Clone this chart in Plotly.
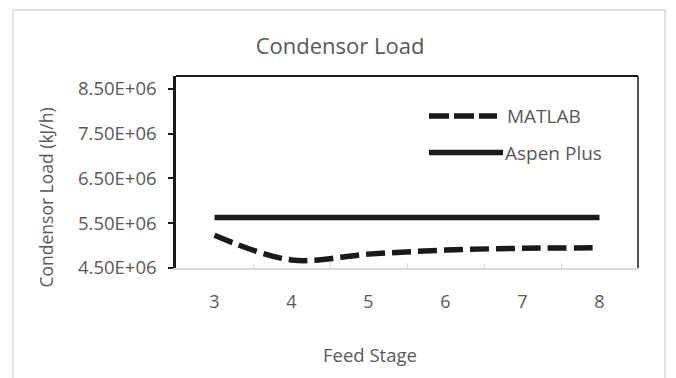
import plotly.graph_objects as go

# ---- data ----
feed_stage = ["3", "4", "5", "6", "7", "8"]
matlab_load = [5.23e6, 4.68e6, 4.81e6, 4.90e6, 4.94e6, 4.95e6]
aspen_load = [5.63e6, 5.63e6, 5.63e6, 5.63e6, 5.63e6, 5.63e6]
y_tick_vals = [4.5e6, 5.5e6, 6.5e6, 7.5e6, 8.5e6]
y_tick_text = ["4.50E+06", "5.50E+06", "6.50E+06", "7.50E+06", "8.50E+06"]

FONT = "Open Sans"
GREY = "#595959"
DARK = "#1a1a1a"

fig = go.Figure()
fig.add_trace(go.Scatter(x=feed_stage, y=matlab_load, mode="lines", name="MATLAB",
                         line=dict(color=DARK, width=5.5, dash="19px,7px", shape="spline", smoothing=1.0),
                         showlegend=False))
fig.add_trace(go.Scatter(x=feed_stage, y=aspen_load, mode="lines", name="Aspen Plus",
                         line=dict(color=DARK, width=5.5), showlegend=False))

W, H = 676, 378
L, R, T, B = 176, 38, 76, 110
pw, ph = W - L - R, H - T - B

def px(x):
    return (x - L) / pw

def py(y):
    return (H - B - y) / ph

shapes = [
    # outer chart border
    dict(type="rect", xref="paper", yref="paper", x0=px(13), x1=px(665), y0=py(400), y1=py(10),
         line=dict(color="#d9d9d9", width=1.5), layer="below"),
    # top border of plot area
    dict(type="line", xref="paper", yref="paper", x0=0, x1=1, y0=1, y1=1,
         line=dict(color=DARK, width=2)),
    # right border of plot area
    dict(type="line", xref="paper", yref="paper", x0=1, x1=1, y0=0, y1=1,
         line=dict(color=DARK, width=1.5)),
    # legend samples
    dict(type="line", xref="paper", yref="paper", x0=px(429), x1=px(497), y0=py(116), y1=py(116),
         line=dict(color=DARK, width=5.5, dash="20px,5px")),
    dict(type="line", xref="paper", yref="paper", x0=px(429), x1=px(503), y0=py(152.5), y1=py(152.5),
         line=dict(color=DARK, width=5.5)),
]

annotations = [
    dict(text="MATLAB", xref="paper", yref="paper", x=px(505), y=py(116), xanchor="left", yanchor="middle",
         showarrow=False, font=dict(family=FONT, size=19, color=GREY)),
    dict(text="Aspen Plus", xref="paper", yref="paper", x=px(503), y=py(152.5), xanchor="left", yanchor="middle",
         showarrow=False, font=dict(family=FONT, size=19, color=GREY)),
    dict(text="Feed Stage", xref="paper", yref="paper", x=px(370), y=py(354), xanchor="center", yanchor="middle",
         showarrow=False, font=dict(family=FONT, size=18.5, color=GREY)),
    dict(text="Condensor Load (kJ/h)", xref="paper", yref="paper", x=px(45), y=py(197.5), xanchor="center",
         yanchor="middle", textangle=-90, showarrow=False, font=dict(family=FONT, size=17.5, color=GREY)),
]

fig.update_layout(
    width=W, height=H,
    margin=dict(l=L, r=R, t=T, b=B),
    paper_bgcolor="white", plot_bgcolor="white",
    title=dict(text="Condensor Load", x=340 / W, y=1 - 46 / H, xanchor="center", yanchor="middle",
               font=dict(family=FONT, size=22, color=GREY)),
    shapes=shapes, annotations=annotations,
    xaxis=dict(type="category", range=[-0.5, 5.5], showgrid=False, zeroline=False,
               showline=True, linecolor="#d9d9d9", linewidth=1.5,
               ticks="inside", tickson="boundaries", ticklen=5, tickcolor="#d9d9d9", tickwidth=1,
               ticklabelstandoff=17, tickfont=dict(family=FONT, size=18, color=GREY)),
    yaxis=dict(range=[4.5e6, 8.79e6], showgrid=False, zeroline=False,
               showline=True, linecolor=DARK, linewidth=2.5,
               ticks="outside", ticklen=5, tickcolor=DARK, tickwidth=1.5,
               tickvals=y_tick_vals, ticktext=y_tick_text, ticklabelstandoff=8,
               tickfont=dict(family=FONT, size=18.5, color=GREY)),
)

fig.write_html("out.html")
